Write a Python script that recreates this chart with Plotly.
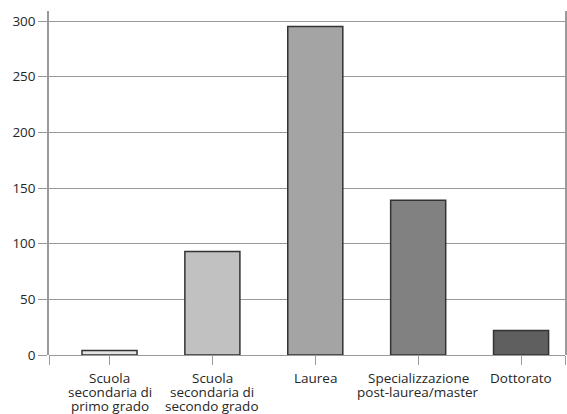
import plotly.graph_objects as go

# ── Dati ───────────────────────────────────────────────────────────────────────
TITOLI = [
    "Scuola\nsecondaria di\nprimo grado",
    "Scuola\nsecondaria di\nsecondo grado",
    "Laurea",
    "Specializzazione\npost-laurea/master",
    "Dottorato",
]
VALORI = [4, 93, 295, 139, 22]
Y_TICKS = [0, 50, 100, 150, 200, 250, 300]

# ── Stile ──────────────────────────────────────────────────────────────────────
COLORI_BARRE = ["#e2e2e2", "#c1c1c1", "#a4a4a4", "#818181", "#5f5f5f"]
COLORE_ASSE = "#9a9a9a"
FONT = dict(family="Open Sans, Noto Sans, sans-serif", size=13.5, color="#262626")
INTERLINEA = 14    # px tra le righe delle etichette
PRIMA_RIGA = 22.5  # px sotto l'asse

X_MIN, X_MAX = -0.588, 4.427
posizioni = list(range(len(TITOLI)))

fig = go.Figure(
    go.Bar(
        x=posizioni,
        y=VALORI,
        width=0.535,
        marker=dict(color=COLORI_BARRE, line=dict(color="#333333", width=1.5)),
    )
)

# etichette delle categorie, una riga per annotazione (interlinea stretta)
for pos, titolo in zip(posizioni, TITOLI):
    for i, riga in enumerate(titolo.split("\n")):
        fig.add_annotation(
            x=pos, xref="x", y=0, yref="paper",
            text=riga, showarrow=False,
            xanchor="center", yanchor="middle",
            yshift=-(PRIMA_RIGA + i * INTERLINEA),
            font=FONT,
        )

fig.update_layout(
    width=567,
    height=414,
    margin=dict(l=49, r=2, t=11, b=59),
    plot_bgcolor="white",
    paper_bgcolor="white",
    font=FONT,
    showlegend=False,
    xaxis=dict(
        range=[X_MIN, X_MAX],
        tickmode="array",
        tickvals=[X_MIN] + posizioni + [X_MAX],
        ticktext=[""] * (len(posizioni) + 2),
        ticks="outside",
        ticklen=9,
        tickcolor=COLORE_ASSE,
        tickwidth=1,
        showgrid=False,
        zeroline=False,
        showline=False,
        automargin=False,
    ),
    yaxis=dict(
        range=[0, 309],
        tickmode="array",
        tickvals=Y_TICKS,
        ticks="outside",
        ticklen=9,
        tickcolor=COLORE_ASSE,
        showgrid=True,
        gridcolor=COLORE_ASSE,
        gridwidth=1,
        zeroline=True,
        zerolinecolor=COLORE_ASSE,
        zerolinewidth=1,
        showline=True,
        linecolor=COLORE_ASSE,
        linewidth=1.5,
        mirror=True,
        tickfont=FONT,
        automargin=False,
    ),
)

# niente margine del body: la figura occupa esattamente la finestra
fig.write_html(
    "out.html",
    config={"displayModeBar": False},
    post_script="document.body.style.margin='0';",
)
